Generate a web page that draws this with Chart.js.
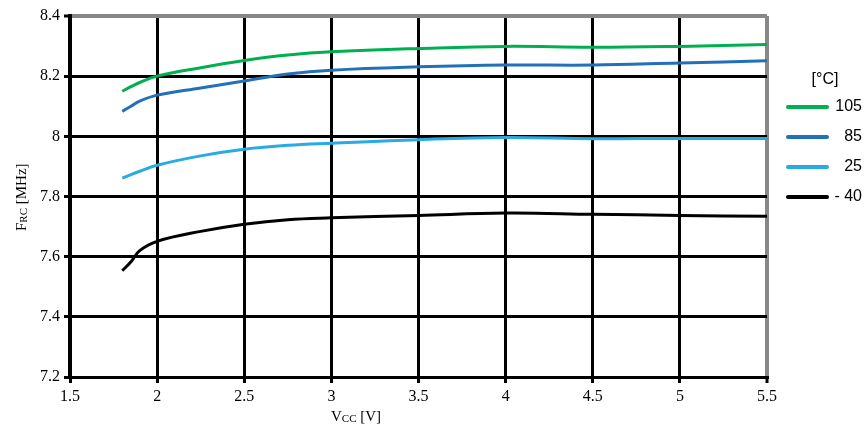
<!DOCTYPE html>
<html>
<head>
<meta charset="utf-8">
<script src="https://cdn.jsdelivr.net/npm/chart.js@4.4.1/dist/chart.umd.min.js"></script>
<style>
  html, body { margin: 0; padding: 0; background: #fff; }
  #wrap { width: 864px; height: 427px; }
</style>
</head>
<body>
<div id="wrap"><canvas id="c" width="864" height="427"></canvas></div>
<script>
// ---- Data ----
const vcc = [1.8, 1.85, 1.9, 2.0, 2.25, 2.5, 2.75, 3.0, 3.5, 4.0, 4.5, 5.0, 5.5];
const f105 = [8.150, 8.165, 8.179, 8.200, 8.228, 8.252, 8.270, 8.281, 8.292, 8.299, 8.296, 8.299, 8.305];
const f85  = [8.083, 8.100, 8.117, 8.137, 8.161, 8.184, 8.207, 8.220, 8.231, 8.237, 8.237, 8.244, 8.251];
const f25  = [7.861, 7.873, 7.884, 7.904, 7.935, 7.957, 7.970, 7.977, 7.989, 7.996, 7.992, 7.993, 7.993];
const fm40 = [7.553, 7.583, 7.620, 7.651, 7.684, 7.708, 7.723, 7.729, 7.737, 7.745, 7.741, 7.737, 7.734];
const seriesLabels = ['105', '85', '25', '- 40'];
const seriesColors = ['#00B050', '#2271B8', '#29ABE2', '#000000'];
const xTicks = [1.5, 2, 2.5, 3, 3.5, 4, 4.5, 5, 5.5];
const yTicks = [7.2, 7.4, 7.6, 7.8, 8.0, 8.2, 8.4];
const legendTitle = '[°C]';
const xTitle = ['V', 'CC', ' [V]'];
const yTitle = ['F', 'RC', ' [MHz]'];

const seriesValues = [f105, f85, f25, fm40];
const datasets = seriesValues.map((vals, i) => ({
  label: seriesLabels[i],
  data: vcc.map((x, j) => ({ x: x, y: vals[j] })),
  borderColor: seriesColors[i],
  backgroundColor: seriesColors[i],
  borderWidth: 3,
  pointRadius: 0,
  tension: 0.4,
  fill: false
}));

const overlay = {
  id: 'overlay',
  afterDraw(chart) {
    const ctx = chart.ctx;
    ctx.save();
    // Legend
    ctx.fillStyle = '#000';
    ctx.font = '16px "Liberation Sans", Arial, sans-serif';
    ctx.textBaseline = 'middle';
    ctx.textAlign = 'center';
    ctx.fillText(legendTitle, 825, 80);
    chart.data.datasets.forEach((ds, i) => {
      const y = 107 + i * 30;
      ctx.strokeStyle = ds.borderColor;
      ctx.lineWidth = 4;
      ctx.lineCap = 'round';
      ctx.beginPath();
      ctx.moveTo(788, y);
      ctx.lineTo(827, y);
      ctx.stroke();
      ctx.textAlign = 'right';
      ctx.fillText(ds.label, 862, y);
    });
    // Axis titles with subscripts
    const big = '15px "Liberation Serif", "Times New Roman", serif';
    const small = '11px "Liberation Serif", "Times New Roman", serif';
    ctx.textAlign = 'left';
    ctx.textBaseline = 'alphabetic';
    function drawSub(parts, x0, y0) {
      let x = x0;
      parts.forEach((p, k) => {
        ctx.font = (k === 1) ? small : big;
        ctx.fillText(p, x, y0 + (k === 1 ? 1 : 0));
        x += ctx.measureText(p).width;
      });
    }
    drawSub(xTitle, 331, 421);
    ctx.translate(26, 231);
    ctx.rotate(-Math.PI / 2);
    drawSub(yTitle, 0, 0);
    ctx.restore();
  }
};

Chart.defaults.font.family = '"Liberation Serif", "Times New Roman", serif';
Chart.defaults.color = '#000';

new Chart(document.getElementById('c'), {
  type: 'line',
  data: { datasets: datasets },
  options: {
    responsive: false,
    devicePixelRatio: 1,
    animation: false,
    layout: { padding: { left: 0, right: 97, top: 16, bottom: 0 } },
    plugins: { legend: { display: false }, tooltip: { enabled: false } },
    scales: {
      x: {
        type: 'linear',
        min: xTicks[0],
        max: xTicks[xTicks.length - 1],
        afterBuildTicks: (s) => { s.ticks = xTicks.map(v => ({ value: v })); },
        afterFit: (s) => { s.height = 50; },
        ticks: { font: { size: 16 }, padding: 4, maxRotation: 0,
          callback: (v) => String(v) },
        grid: {
          color: (c) => (c.tick && c.tick.value === 5.5) ? '#888888' : '#000000',
          lineWidth: (c) => (c.tick && c.tick.value === 5.5) ? 4 : 3,
          tickColor: '#000000',
          tickLength: 6,
          tickWidth: 3
        },
        border: { color: '#000000', width: 3 }
      },
      y: {
        min: yTicks[0],
        max: yTicks[yTicks.length - 1],
        afterBuildTicks: (s) => { s.ticks = yTicks.map(v => ({ value: v })); },
        afterFit: (s) => { s.width = 70; },
        ticks: { font: { size: 16 }, padding: 4,
          callback: (v) => String(Math.round(v * 10) / 10) },
        grid: {
          color: (c) => (c.tick && Math.abs(c.tick.value - 8.4) < 1e-6) ? '#888888' : '#000000',
          lineWidth: (c) => (c.tick && Math.abs(c.tick.value - 8.4) < 1e-6) ? 4 : 3,
          tickColor: '#000000',
          tickLength: 6,
          tickWidth: 3
        },
        border: { color: '#000000', width: 4 }
      }
    }
  },
  plugins: [overlay]
});
</script>
</body>
</html>
